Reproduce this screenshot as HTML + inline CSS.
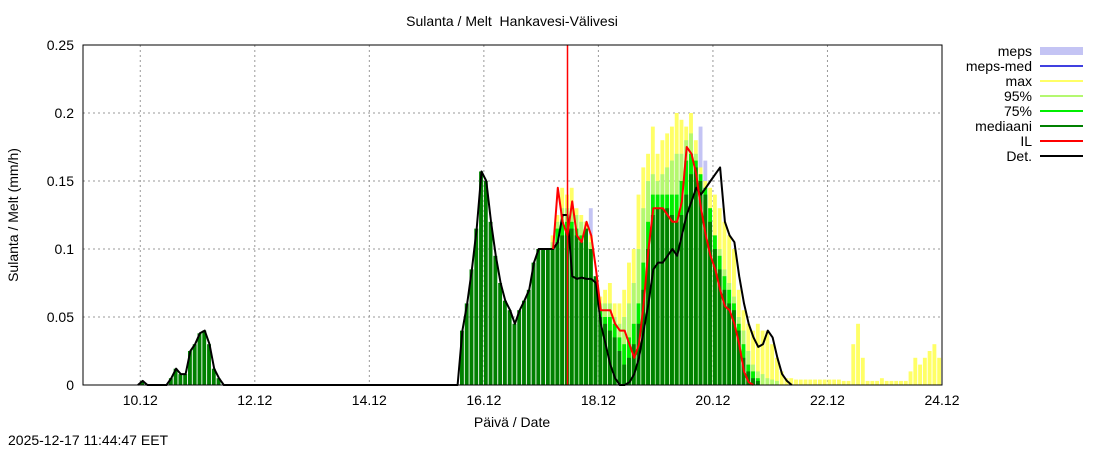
<!DOCTYPE html>
<html><head><meta charset="utf-8"><style>
body{margin:0;background:#fff;}
svg{display:block;font-family:"Liberation Sans",sans-serif;}
</style></head><body>
<svg id="chart" width="1100" height="450">
<text x="512" y="26" font-size="14" text-anchor="middle" xml:space="preserve" style="white-space:pre">Sulanta / Melt  Hankavesi-Välivesi</text>
<g id="grid"></g><g id="bars"></g><g id="lines"></g><g id="axes"></g><g id="legend"></g>
<text x="512" y="427" font-size="14" text-anchor="middle">Päivä / Date</text>
<text transform="translate(18,215) rotate(-90)" font-size="14" text-anchor="middle">Sulanta / Melt (mm/h)</text>
<text x="8" y="445" font-size="14">2025-12-17 11:44:47 EET</text>
</svg>
<script>
const xTicks=["10.12","12.12","14.12","16.12","18.12","20.12","22.12","24.12"];
const xTickHours=[24,72,120,168,216,264,312,360];
const yTicks=[0,0.05,0.1,0.15,0.2,0.25];
const yTickLabels=["0","0.05","0.1","0.15","0.2","0.25"];
const startHour=24, stepHours=2, nowHour=203;
const Z48=Array(48).fill(0);
const early=[0.003,0,0,0,0,0,0.005,0.012,0.008,0.008,0.025,0.03,0.038,0.04,0.03,0.012,0.005,0,];
const medianMain=[0,0.04,0.06,0.085,0.115,0.157,0.15,0.12,0.095,0.075,0.062,0.055,0.045,0.055,0.062,0.07,0.09,0.1,0.1,0.1,0.1,0.105,0.11,0.115,0.115,0.11,0.105,0.115,0.1,0.08,0.05,0.045,0.04,0.035,0.025,0.015,0.02,0.03,0.045,0.07,0.1,0.125,0.13,0.13,0.13,0.125,0.12,0.125,0.14,0.155,0.16,0.15,0.14,0.12,0.1,0.085,0.07,0.06,0.055,0.04,0.02,0.01,0.005,0.003,0];
const p75Main=[0.1,0.115,0.12,0.12,0.12,0.115,0.11,0.115,0.1,0.06,0.055,0.05,0.05,0.045,0.035,0.03,0.035,0.045,0.06,0.09,0.12,0.14,0.14,0.14,0.14,0.14,0.14,0.15,0.165,0.17,0.165,0.155,0.145,0.13,0.11,0.095,0.08,0.07,0.06,0.045,0.03,0.015,0.01,0.005];
const p95Main=[0.105,0.12,0.13,0.13,0.13,0.125,0.12,0.115,0.105,0.065,0.06,0.06,0.06,0.05,0.045,0.05,0.06,0.075,0.1,0.13,0.15,0.155,0.15,0.155,0.16,0.165,0.17,0.17,0.18,0.185,0.17,0.15,0.135,0.12,0.11,0.1,0.085,0.075,0.065,0.05,0.04,0.025,0.015,0.01,0.008,0.005,0.004,0.003];
const mepsMain=[0.105,0.12,0.13,0.13,0.13,0.125,0.12,0.12,0.13,0.065,0.06,0.06,0.06,0.05,0.045,0.05,0.06,0.075,0.1,0.13,0.15,0.155,0.15,0.155,0.16,0.165,0.17,0.17,0.18,0.185,0.17,0.19,0.165,0.12,0.11,0.1,0.085,0.075,0.065,0.05,0.04,0.025,0.015,0.01];
const maxMain=[0.11,0.125,0.145,0.14,0.145,0.13,0.125,0.12,0.11,0.07,0.065,0.07,0.075,0.06,0.06,0.07,0.09,0.1,0.14,0.16,0.17,0.19,0.17,0.18,0.185,0.19,0.2,0.195,0.19,0.2,0.18,0.16,0.15,0.145,0.14,0.13,0.12,0.11,0.1,0.07,0.055,0.045,0.04,0.045,0.04,0.04,0.03,0.02,0.01,0.005,0.005,0.004,0.004,0.004,0.004,0.004,0.004,0.004,0.004,0.004,0.004,0.003,0.003,0.03,0.045,0.02,0.003,0.003,0.003,0.005,0.003,0.003,0.003,0.003,0.003,0.01,0.02,0.015,0.02,0.025,0.03,0.02,0.01];
const ilMain=[0.1,0.145,0.12,0.11,0.135,0.11,0.105,0.12,0.11,0.085,0.055,0.055,0.055,0.045,0.04,0.04,0.03,0.02,0.03,0.06,0.1,0.13,0.13,0.13,0.125,0.12,0.12,0.135,0.175,0.17,0.155,0.13,0.11,0.095,0.085,0.07,0.058,0.055,0.045,0.03,0.01,0.002,0];
const detMainTail=[0.105,0.125,0.125,0.08,0.078,0.079,0.078,0.078,0.075,0.045,0.03,0.015,0.005,0,0,0.002,0.008,0.02,0.04,0.06,0.085,0.09,0.09,0.095,0.1,0.095,0.11,0.125,0.135,0.145,0.14,0.145,0.15,0.155,0.16,0.12,0.11,0.105,0.08,0.06,0.045,0.035,0.028,0.03,0.04,0.035,0.02,0.008,0.003,0];

const median=[...early,...Z48,...medianMain];
const mainOff=early.length+48;
const ensOff=mainOff+20;
const ilOff=mainOff+20;
const det=[...early,...Z48,...medianMain.slice(0,21),...detMainTail];

const NS="http://www.w3.org/2000/svg";
const X0=83,X1=942,Y0=385,Y1=45;
const xs=h=>X0+h*(X1-X0)/360;
const ys=v=>Y0-v*(Y0-Y1)/0.25;
const hourAt=i=>startHour+i*stepHours;
function mk(tag,attrs,parent){const e=document.createElementNS(NS,tag);for(const k in attrs)e.setAttribute(k,attrs[k]);parent.appendChild(e);return e;}
const grid=document.getElementById('grid'),bars=document.getElementById('bars'),lines=document.getElementById('lines'),axes=document.getElementById('axes'),legend=document.getElementById('legend');

yTicks.forEach((v,i)=>{
  if(i>0&&i<yTicks.length-1){const g=mk('line',{x1:X0,x2:X1,y1:ys(v),y2:ys(v),stroke:'#999','stroke-dasharray':'2,3'},grid);
  
  }
  const t=mk('text',{x:X0-9,y:ys(v)+5,'font-size':14,'text-anchor':'end'},axes);t.textContent=yTickLabels[i];
  
  
});
xTickHours.forEach((h,i)=>{
  if(i<xTickHours.length-1){const g=mk('line',{x1:xs(h),x2:xs(h),y1:Y1,y2:Y0,stroke:'#999','stroke-dasharray':'2,3'},grid);
  
  }
  const t=mk('text',{x:xs(h),y:Y0+20,'font-size':14,'text-anchor':'middle'},axes);t.textContent=xTicks[i];
  
  
});
const bw=(X1-X0)/360*stepHours-0.9;
function drawBars(arr,off,color,name){
  arr.forEach((v,i)=>{if(v<=0)return;const h=hourAt(off+i);const x=xs(h);if(x>=X1)return;
    const r=mk('rect',{x:x,y:ys(v),width:Math.min(bw,X1-x),height:Y0-ys(v),fill:color},bars);
    
    });
}
drawBars(mepsMain,ensOff,'#c4c4f4','meps-bar');
drawBars(maxMain,ensOff,'#ffff66','max-bar');
drawBars(p95Main,ensOff,'#b4f870','p95-bar');
drawBars(p75Main,ensOff,'#00ee00','p75-bar');
drawBars(median,0,'#008000','median-bar');
function drawLine(arr,off,color,name,w){
  const pts=arr.map((v,i)=>xs(hourAt(off+i)+1).toFixed(1)+','+ys(v).toFixed(1)).join(' ');
  const p=mk('polyline',{points:pts,fill:'none',stroke:color,'stroke-width':w,'stroke-linejoin':'round'},lines);
  
  
}
drawLine([0,...det.slice(0)],-1,'#000','det-line',2);
drawLine(ilMain,ilOff,'#ff0000','il-line',2);
const nx=Math.round(xs(nowHour))+0.5;
const nl=mk('line',{x1:nx,x2:nx,y1:Y1,y2:Y0,stroke:'#ff0000','stroke-width':1.5},lines);


const fr=mk('rect',{x:X0,y:Y1,width:X1-X0,height:Y0-Y1,fill:'none',stroke:'#000','stroke-width':1},axes);



const legNames=["meps","meps-med","max","95%","75%","mediaani","IL","Det."];
const legColors=["#c4c4f4","#4040e0","#ffff66","#b4f870","#00ee00","#008000","#ff0000","#000"];
legNames.forEach((n,i)=>{
  const y=51+i*15;
  const t=mk('text',{x:1032,y:y+5,'font-size':14,'text-anchor':'end'},legend);t.textContent=n;
  
  
  const s=i===0?mk('rect',{x:1040,y:y-4,width:43,height:8,fill:legColors[i]},legend):mk('line',{x1:1040,x2:1083,y1:y,y2:y,stroke:legColors[i],'stroke-width':2},legend);
  
  
});
</script>
</body></html>
